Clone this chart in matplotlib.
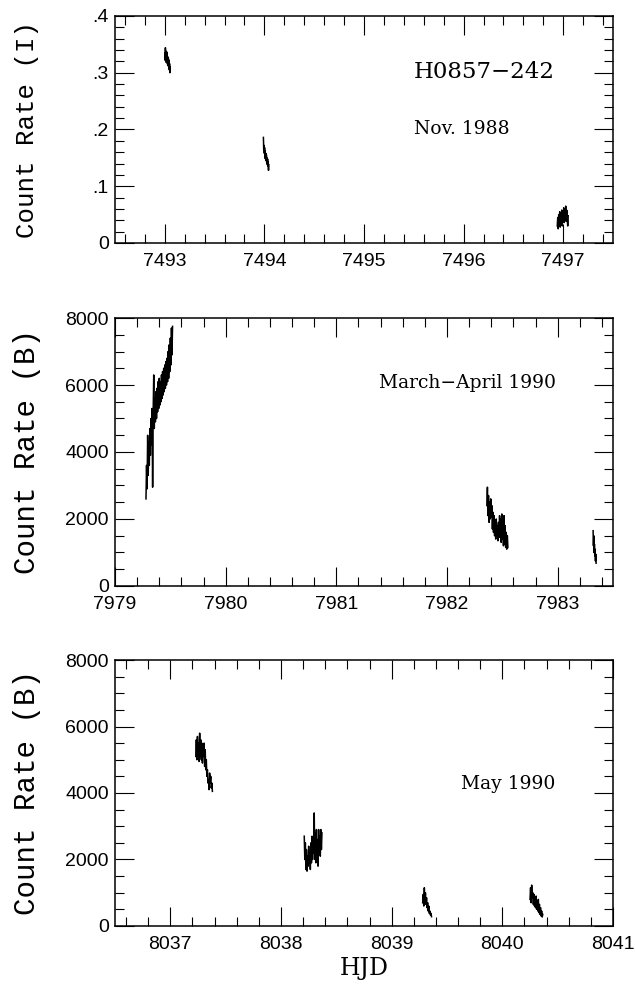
import matplotlib
matplotlib.use("Agg")
import matplotlib.pyplot as plt
from matplotlib.ticker import MultipleLocator, FuncFormatter

# Nov. 1988, I-band count rate
nov_t1 = [7493.000, 7493.003, 7493.006, 7493.009, 7493.012, 7493.015, 7493.018,
          7493.021, 7493.024, 7493.027, 7493.030, 7493.033, 7493.036, 7493.039,
          7493.042, 7493.045, 7493.048, 7493.051, 7493.054]
nov_c1 = [.335, .322, .344, .328, .338, .318, .333, .325, .336, .315, .328, .312,
          .325, .318, .322, .305, .316, .300, .310]
nov_t2 = [7493.990, 7493.993, 7493.996, 7493.999, 7494.002, 7494.005, 7494.008,
          7494.011, 7494.014, 7494.017, 7494.020, 7494.023, 7494.026, 7494.029,
          7494.032, 7494.035, 7494.038, 7494.041, 7494.044]
nov_c2 = [.186, .165, .172, .158, .168, .150, .162, .148, .158, .145, .155, .142,
          .150, .138, .148, .135, .143, .128, .138]
nov_t3 = [7496.940, 7496.945, 7496.950, 7496.955, 7496.960, 7496.965, 7496.970,
          7496.975, 7496.980, 7496.985, 7496.990, 7496.995, 7497.000, 7497.005,
          7497.010, 7497.015, 7497.020, 7497.025, 7497.030, 7497.035, 7497.040,
          7497.045, 7497.050]
nov_c3 = [.030, .045, .025, .050, .032, .055, .028, .046, .035, .058, .030, .048,
          .040, .062, .036, .055, .042, .065, .038, .058, .045, .030, .048]

# March-April 1990, B-band count rate
mar_t1 = [7979.280, 7979.285, 7979.290, 7979.295, 7979.300, 7979.305, 7979.310,
          7979.315, 7979.320, 7979.325, 7979.330, 7979.335, 7979.340, 7979.345,
          7979.350, 7979.355, 7979.360, 7979.365, 7979.370, 7979.375, 7979.380,
          7979.385, 7979.390, 7979.395, 7979.400, 7979.405, 7979.410, 7979.415,
          7979.420, 7979.425, 7979.430, 7979.435, 7979.440, 7979.445, 7979.450,
          7979.455, 7979.460, 7979.465, 7979.470, 7979.475, 7979.480, 7979.485,
          7979.490, 7979.495, 7979.500, 7979.505, 7979.510, 7979.515, 7979.520]
mar_c1 = [2600, 3600, 2900, 4500, 3300, 4300, 3600, 4700, 3900, 5000, 4200, 5300,
          2950, 5200, 6300, 4700, 5600, 4900, 5800, 5000, 5900, 5200, 6100, 5300,
          6200, 5400, 6100, 5500, 6300, 5600, 6400, 5700, 6500, 5800, 6600, 5900,
          6700, 6000, 6800, 6100, 7000, 6200, 7200, 6400, 7400, 6600, 7700, 6900,
          7750]
mar_t2 = [7982.360, 7982.365, 7982.370, 7982.375, 7982.380, 7982.385, 7982.390,
          7982.395, 7982.400, 7982.405, 7982.410, 7982.415, 7982.420, 7982.425,
          7982.430, 7982.435, 7982.440, 7982.445, 7982.450, 7982.455, 7982.460,
          7982.465, 7982.470, 7982.475, 7982.480, 7982.485, 7982.490, 7982.495,
          7982.500, 7982.505, 7982.510, 7982.515, 7982.520, 7982.525, 7982.530,
          7982.535, 7982.540, 7982.545, 7982.550]
mar_c2 = [2400, 2950, 2100, 2700, 1900, 2500, 2000, 2600, 2050, 2400, 1700, 2200,
          1600, 2100, 1500, 1900, 1400, 2000, 1500, 1800, 1350, 1900, 1450, 2100,
          1500, 2000, 1300, 2150, 1400, 1900, 1200, 2100, 1250, 1800, 1150, 1600,
          1100, 1500, 1150]
mar_t3 = [7983.320, 7983.323, 7983.326, 7983.329, 7983.332, 7983.335, 7983.338,
          7983.341, 7983.344, 7983.347]
mar_c3 = [1650, 1200, 1500, 1000, 1250, 900, 1100, 750, 950, 680]

# May 1990, B-band count rate
may_t1 = [8037.230, 8037.235, 8037.240, 8037.245, 8037.250, 8037.255, 8037.260,
          8037.265, 8037.270, 8037.275, 8037.280, 8037.285, 8037.290, 8037.295,
          8037.300, 8037.305, 8037.310, 8037.315, 8037.320, 8037.325, 8037.330,
          8037.335, 8037.340, 8037.345, 8037.350, 8037.355, 8037.360, 8037.365,
          8037.370, 8037.375, 8037.380]
may_c1 = [5100, 5600, 5000, 5700, 5200, 5500, 4950, 5800, 5100, 5600, 5000, 5500,
          4900, 5400, 5100, 5500, 4800, 5300, 4700, 5000, 4500, 4700, 4300, 4400,
          4100, 4600, 4300, 4500, 4150, 4300, 4050]
may_t2 = [8038.210, 8038.215, 8038.220, 8038.225, 8038.230, 8038.235, 8038.240,
          8038.245, 8038.250, 8038.255, 8038.260, 8038.265, 8038.270, 8038.275,
          8038.280, 8038.285, 8038.290, 8038.295, 8038.300, 8038.305, 8038.310,
          8038.315, 8038.320, 8038.325, 8038.330, 8038.335, 8038.340, 8038.345,
          8038.350, 8038.355, 8038.360, 8038.365, 8038.370]
may_c2 = [2700, 2000, 2500, 1700, 2300, 1650, 2100, 1800, 2400, 1900, 2200, 1700,
          2500, 1900, 2700, 2000, 2600, 2200, 3400, 2000, 2800, 1900, 2900, 2000,
          2600, 1800, 2900, 2200, 2700, 2100, 2900, 2300, 2800]
may_t3 = [8039.280, 8039.285, 8039.290, 8039.295, 8039.300, 8039.305, 8039.310,
          8039.315, 8039.320, 8039.325, 8039.330, 8039.335, 8039.340, 8039.345,
          8039.350, 8039.355, 8039.360]
may_c3 = [700, 950, 600, 1150, 750, 1000, 650, 850, 550, 700, 450, 600, 380, 450,
          330, 380, 280]
may_t4 = [8040.250, 8040.255, 8040.260, 8040.265, 8040.270, 8040.275, 8040.280,
          8040.285, 8040.290, 8040.295, 8040.300, 8040.305, 8040.310, 8040.315,
          8040.320, 8040.325, 8040.330, 8040.335, 8040.340, 8040.345, 8040.350,
          8040.355, 8040.360, 8040.365]
may_c4 = [800, 1150, 700, 1230, 850, 1000, 650, 950, 600, 850, 550, 900, 500, 750,
          450, 800, 400, 650, 350, 550, 300, 450, 270, 350]

SERIF = "DejaVu Serif"
MONO = "Liberation Mono"
SANS = "Liberation Sans"


def style_axes(ax, xlim, ylim, ymajor, yminor, yfmt=None):
    ax.set_xlim(*xlim)
    ax.set_ylim(*ylim)
    ax.xaxis.set_major_locator(MultipleLocator(1))
    ax.xaxis.set_minor_locator(MultipleLocator(0.2))
    ax.yaxis.set_major_locator(MultipleLocator(ymajor))
    ax.yaxis.set_minor_locator(MultipleLocator(yminor))
    ax.xaxis.set_major_formatter(FuncFormatter(lambda v, p: "%d" % round(v)))
    if yfmt is not None:
        ax.yaxis.set_major_formatter(FuncFormatter(yfmt))
    ax.tick_params(which="both", direction="in", top=True, right=True,
                   width=0.8, colors="black")
    ax.tick_params(which="major", length=13.5, labelsize=14)
    ax.tick_params(axis="x", which="major", pad=7)
    ax.tick_params(axis="y", which="major", pad=4.5)
    ax.tick_params(which="minor", length=6.8)
    for lab in ax.get_xticklabels() + ax.get_yticklabels():
        lab.set_family(SANS)
    for s in ax.spines.values():
        s.set_linewidth(1.1)


def dot_fmt(v, p):
    if abs(v) < 1e-9:
        return "0"
    return ("%.1f" % v).lstrip("0")


fig = plt.figure(figsize=(6.35, 9.91), dpi=100)

ax1 = fig.add_axes([0.1811, 0.7548, 0.7843, 0.2291])
ax2 = fig.add_axes([0.1811, 0.4087, 0.7843, 0.2704])
ax3 = fig.add_axes([0.1811, 0.0656, 0.7843, 0.2684])

for t, c in [(nov_t1, nov_c1), (nov_t2, nov_c2), (nov_t3, nov_c3)]:
    ax1.plot(t, c, color="black", lw=1.1)
for t, c in [(mar_t1, mar_c1), (mar_t2, mar_c2), (mar_t3, mar_c3)]:
    ax2.plot(t, c, color="black", lw=1.1)
for t, c in [(may_t1, may_c1), (may_t2, may_c2), (may_t3, may_c3), (may_t4, may_c4)]:
    ax3.plot(t, c, color="black", lw=1.1)

style_axes(ax1, (7492.5, 7497.5), (0, 0.4), 0.1, 0.02, dot_fmt)
style_axes(ax2, (7979, 7983.5), (0, 8000), 2000, 500)
style_axes(ax3, (8036.5, 8041), (0, 8000), 2000, 500)

ax1.text(0.6, 0.753, "H0857\u2212242", transform=ax1.transAxes, family=SERIF,
         fontsize=16.5, ha="left", va="center")
ax1.text(0.6, 0.502, "Nov. 1988", transform=ax1.transAxes, family=SERIF,
         fontsize=13.5, ha="left", va="center")
ax2.text(0.885, 0.757, "March\u2212April 1990", transform=ax2.transAxes,
         family=SERIF, fontsize=13.5, ha="right", va="center")
ax3.text(0.885, 0.534, "May 1990", transform=ax3.transAxes, family=SERIF,
         fontsize=13.5, ha="right", va="center")

for ax, lab, fs in [(ax1, "Count Rate (I)", 18.5), (ax2, "Count Rate (B)", 21),
                    (ax3, "Count Rate (B)", 21)]:
    pos = ax.get_position()
    fig.text(0.042, pos.y0 + pos.height / 2, lab, rotation=90, family=MONO,
             fontsize=fs, ha="center", va="center")

fig.text(0.573, 0.023, "HJD", family=SERIF, fontsize=17, ha="center",
         va="center")

fig.savefig("out.png", dpi=100)
